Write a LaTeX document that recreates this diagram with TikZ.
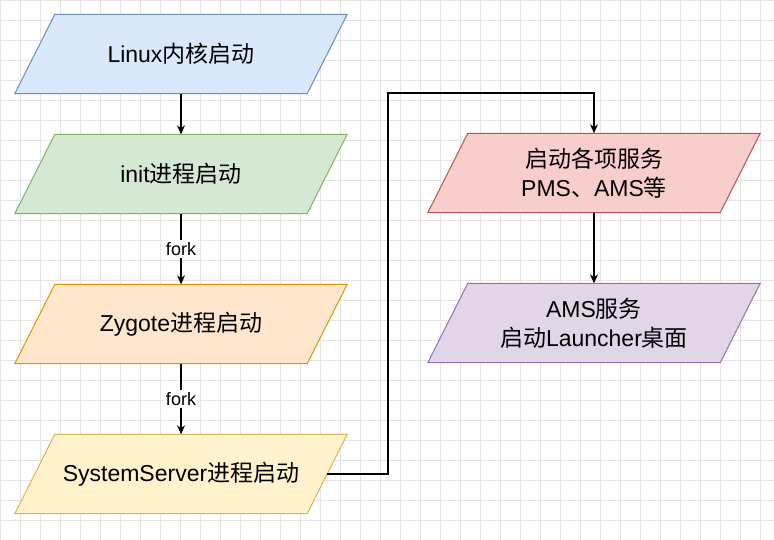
\documentclass[tikz,border=0pt]{standalone}
\usepackage{fontspec}
\setmainfont{Liberation Sans}
\newfontfamily\cjk{Noto Sans CJK SC}
\usetikzlibrary{arrows.meta}
\pgfdeclarelayer{grid}\pgfdeclarelayer{bg}
\pgfsetlayers{grid,bg,main}
\definecolor{bF}{HTML}{DAE8FC}\definecolor{bS}{HTML}{6C8EBF}
\definecolor{gF}{HTML}{D5E8D4}\definecolor{gS}{HTML}{82B366}
\definecolor{oF}{HTML}{FFE6CC}\definecolor{oS}{HTML}{D79B00}
\definecolor{yF}{HTML}{FFF2CC}\definecolor{yS}{HTML}{D6B656}
\definecolor{rF}{HTML}{F8CECC}\definecolor{rS}{HTML}{B85450}
\definecolor{pF}{HTML}{E1D5E7}\definecolor{pS}{HTML}{9673A6}
\newcommand{\mypara}[3]{\begin{pgfonlayer}{bg}\draw[fill=#2,draw=#3,line width=1pt]
 ([xshift=20pt]#1.north west)--([xshift=20pt]#1.north east)--([xshift=-20pt]#1.south east)--([xshift=-20pt]#1.south west)--cycle;\end{pgfonlayer}}
\newcommand{\zh}[1]{{\cjk #1}}
\tikzset{box/.style={minimum width=292pt,minimum height=79pt,align=center,font=\fontsize{23}{29}\selectfont,inner sep=0pt},
arr/.style={-{Stealth[length=9pt,width=8pt]},line width=1.2pt},
lab/.style={fill=white,font=\fontsize{18}{20}\selectfont,inner sep=2pt}}
\begin{document}
\begin{tikzpicture}[x=1pt,y=-1pt]
\useasboundingbox (0,0) rectangle (774,540);
\begin{pgfonlayer}{grid}
\fill[white] (0,0) rectangle (774,540);
\draw[black!10,line width=0.6pt] (0,0) grid[step=20pt] (774,540);
\end{pgfonlayer}
\node[box] (a) at (181,54) {Linux\zh{内核启动}};
\node[box] (b) at (181,174) {init\zh{进程启动}};
\node[box] (c) at (181,324) {Zygote\zh{进程启动}};
\node[box] (d) at (181,474) {SystemServer\zh{进程启动}};
\node[box] (e) at (594,173) {\zh{启动各项服务}\\PMS\zh{、}AMS\zh{等}};
\node[box] (f) at (594,323) {AMS\zh{服务}\\\zh{启动}Launcher\zh{桌面}};
\mypara{a}{bF}{bS}\mypara{b}{gF}{gS}\mypara{c}{oF}{oS}
\mypara{d}{yF}{yS}\mypara{e}{rF}{rS}\mypara{f}{pF}{pS}
\draw[arr] (a) -- (b);
\draw[arr] (b) -- node[lab]{fork} (c);
\draw[arr] (c) -- node[lab]{fork} (d);
\coordinate (k1) at (388,474);
\coordinate (k2) at (388,93);
\coordinate (k3) at (594,93);
\draw[arr] (d.east) -- (k1) -- (k2) -- (k3) -- (e.north);
\draw[arr] (e) -- (f);
\end{tikzpicture}
\end{document}
